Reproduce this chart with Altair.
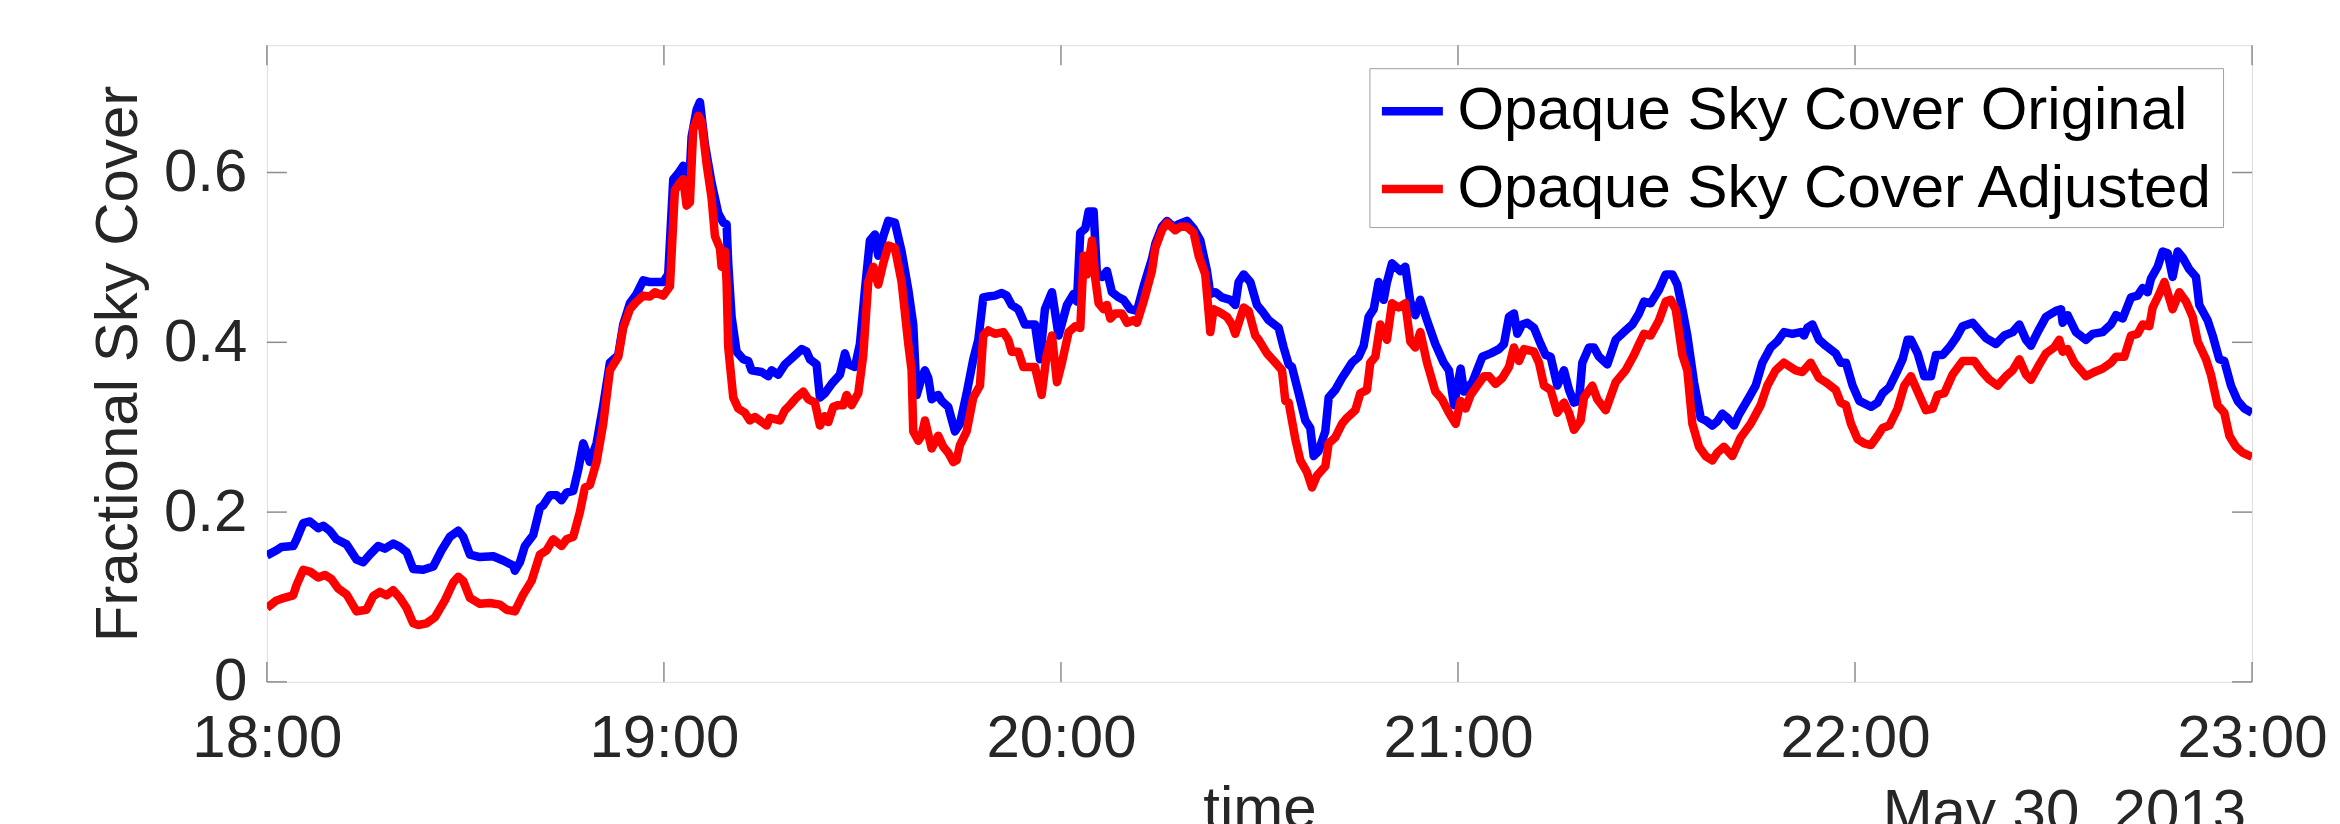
import altair as alt
import pandas as pd

FONT = "Liberation Sans"
ORIG_LABEL = "Opaque Sky Cover Original"
ADJ_LABEL = "Opaque Sky Cover Adjusted"
DATE_LABEL = "May 30, 2013"
X_TITLE = "time"
Y_TITLE = "Fractional Sky Cover"

# minutes after 18:00 and fractional sky cover, original series (blue)
orig_minutes = [
    0, 1.46, 2.21, 3.98, 4.48, 5.49, 6.50, 7.76, 8.51, 9.52, 10.53, 12.04, 13.55, 14.56, 15.57, 16.82, 17.83,
    19.09, 20.10, 21.11, 22.11, 23.62, 25.14, 26.40, 27.66, 28.92, 29.67, 30.68, 32.19, 34.21, 35.72, 37.23,
    37.48, 38.24, 38.99, 40.25, 41.26, 41.76, 42.77, 43.78, 44.53, 45.29, 46.30, 47.05, 47.81, 48.82, 49.82,
    50.83, 51.84, 53.10, 53.85, 54.86, 55.87, 56.88, 57.88,
    58.64, 59.9, 60.65, 61.41, 62.17, 62.92, 63.43, 63.68, 64.18, 64.94, 65.44, 66.2, 67.2, 68.21, 68.97, 69.47,
    69.72, 70.23, 70.98, 71.99, 72.75, 73.25, 74.76, 75.77, 76.27, 77.28, 78.29, 79.3, 80.81, 81.56, 82.07,
    83.07, 83.58, 84.33, 85.34, 86.6, 87.36, 87.86, 88.87, 89.62, 90.38, 91.13, 91.89, 92.39, 93.15, 93.91,
    94.91, 95.92, 96.93, 97.68, 98.19, 98.94, 99.45, 99.95, 100.46, 101.46, 101.97, 102.97, 103.98, 104.74,
    105.75, 106.75, 107.51, 108.26, 109.02, 110.03, 111.04, 111.79, 112.55, 113.55, 114.56, 116.07, 116.83, 117.58,
    118.64, 119.65, 120.91, 121.91, 122.42, 122.92, 123.68, 124.18, 124.94, 125.44, 126.2, 126.95, 127.71,
    128.72, 129.47, 130.48, 131.49, 132.49, 133.75, 134.26, 135.26, 136.02, 137.03, 137.78, 139.04, 140.05,
    141.06, 142.07, 142.57, 143.33, 144.33, 145.59, 146.35, 146.85, 147.61, 148.62, 149.62, 150.38, 151.39,
    152.9, 153.65, 154.41, 154.91, 155.92, 156.93, 157.68, 158.19, 158.94, 159.95, 160.46, 161.46, 162.47,
    163.23, 163.98, 164.99, 165.75, 166.5, 167.26, 168.01, 168.77, 169.27, 170.03, 171.29, 172.04, 172.8,
    173.55, 174.31, 175.32, 176.58, 177.84,
    178.64, 179.4, 180.4, 180.91, 182.17, 183.68, 184.94, 186.2, 186.95, 187.71, 188.46, 188.97, 189.72, 190.48,
    191.49, 192.49, 193.25, 194.0, 195.01, 196.02, 196.78, 197.53, 198.29, 198.79, 199.8, 200.55, 201.31,
    202.57, 203.83, 205.34, 206.35, 207.36, 208.11, 209.12, 210.38, 211.39, 212.4, 213.15, 213.91, 214.66,
    215.67, 216.68, 217.43, 218.44, 219.2, 219.95, 220.71, 221.72, 222.47, 223.98, 224.99, 226.0, 227.26,
    228.26, 229.27, 230.53, 231.79, 232.3, 232.8, 233.55, 234.56, 235.57, 237.08, 237.84,
    238.63, 239.64, 240.65, 242.41, 243.42, 244.17, 245.18, 246.44, 247.2, 247.95, 248.45, 249.46, 250.47,
    251.48, 252.23, 253.24, 254.25, 255.26, 256.26, 257.77, 258.78, 259.79, 261.3, 262.56, 263.82, 264.83,
    265.84, 266.59, 267.6, 268.86, 270.37, 271.13, 271.38, 272.13, 273.39, 274.9, 275.91, 277.42, 278.68,
    279.44, 280.45, 281.71, 282.71, 283.47, 284.22, 284.73, 285.74, 286.49, 287.25, 288.0, 288.76, 289.51,
    290.52, 291.53, 292.03, 293.29, 294.05, 295.06, 295.81, 296.82, 297.83, 298.84, 300.0,
]
orig_values = [
    .149, .155, .159, .160, .168, .187, .189, .181, .184, .178, .168, .162, .144, .141, .150, .160, .157,
    .163, .159, .153, .133, .132, .136, .155, .171, .178, .171, .150, .147, .148, .143, .137,
    .131, .141, .160, .173, .205, .208, .220, .220, .214, .223, .225, .250, .281, .259, .281,
    .326, .376, .385, .421, .446, .457, .473, .471,
    .471, .471, .480, .592, .599, .608, .603, .565, .642, .674, .683, .633, .588, .552, .541, .539,
    .493, .430, .389, .380, .378, .367, .365, .360, .367, .362, .374, .381, .392, .389, .380,
    .374, .335, .340, .351, .362, .387, .374, .371, .398, .462, .520, .527, .502, .525, .543,
    .541, .507, .462, .421, .338, .358, .367, .358, .333, .338, .331, .324, .295, .304,
    .340, .380, .403, .453, .454, .455, .458, .455, .444, .439, .421, .421, .380, .439,
    .459, .408, .444, .457, .448, .529, .534, .554, .554, .480, .477, .484, .459,
    .453, .450, .439, .437, .466, .498, .516, .536, .543, .536, .539, .543, .534,
    .520, .484, .457, .459, .453, .450, .444, .471, .480, .471, .444, .437, .426,
    .417, .394, .374, .371, .340, .308, .299, .266, .272, .295, .335, .344, .358,
    .367, .376, .383, .396, .430, .439, .471, .450, .471, .493, .484, .489, .448,
    .432, .450, .426, .398, .376,
    .367, .326, .369, .342, .353, .383, .387, .392, .398, .430, .434, .410, .421, .423,
    .417, .398, .385, .383, .349, .367, .344, .329, .331, .376, .394, .394, .383,
    .374, .403, .414, .421, .434, .448, .446, .462, .480, .480, .468, .439, .408,
    .353, .311, .308, .302, .307, .316, .311, .302, .315, .335, .349, .376, .394,
    .401, .412, .410, .412, .408, .417, .421, .403, .396, .387, .376,
    .376, .349, .331, .324, .329, .340, .347, .367, .380, .403, .403, .387, .360,
    .360, .385, .385, .394, .405, .419, .423, .414, .405, .398, .408, .412, .421,
    .403, .396, .412, .430, .437, .439, .423, .432, .412, .403, .410, .412, .421,
    .432, .428, .453, .455, .464, .459, .475, .489, .507, .505, .477, .507, .500,
    .486, .477, .444, .426, .408, .380, .378, .349, .331, .322, .317,
]

# minutes after 18:00 and fractional sky cover, adjusted series (red)
adj_minutes = [
    0, 1.46, 2.21, 3.98, 4.48, 5.49, 6.50, 7.76, 8.76, 9.77, 10.78, 12.04, 13.55, 15.06, 16.07, 17.08, 18.08,
    19.09, 20.10, 21.11, 22.11, 22.87, 24.13, 25.39, 26.90, 28.16, 28.92, 29.67, 30.68, 32.19, 33.70, 35.21,
    36.22, 37.48, 38.74, 40.00, 41.26, 42.27, 43.27, 44.53, 45.29, 46.30, 47.30, 48.06, 48.82, 49.82, 50.83,
    51.84, 53.10, 53.85, 54.86, 55.87, 56.88, 57.88,
    58.64, 59.9, 60.91, 61.66, 62.42, 62.92, 63.43, 63.93, 64.43, 65.19, 65.69, 66.45, 67.2, 67.71, 68.46,
    68.72, 69.22, 69.47, 69.72, 70.48, 71.23, 72.24, 72.99, 73.75, 75.52, 76.02, 77.53, 78.29, 79.04, 80.05,
    81.06, 81.81, 82.82, 83.58, 84.33, 84.84, 85.59, 86.35, 87.1, 87.61, 88.36, 89.37, 90.13, 90.88, 91.64,
    92.39, 93.15, 93.91, 94.91, 95.92, 96.93, 97.43, 97.68, 98.44, 98.94, 99.45, 100.46, 101.46, 102.22,
    102.97, 103.73, 104.23, 104.74, 105.75, 106.75, 107.76, 108.26, 109.02, 110.03, 111.29, 112.04, 112.55,
    113.55, 114.31, 116.07, 117.08, 117.84,
    118.64, 119.4, 120.15, 121.16, 122.17, 122.92, 123.43, 123.93, 124.69, 125.19, 125.69, 126.45, 126.95,
    127.46, 128.21, 129.22, 129.98, 130.98, 131.49, 132.49, 133.75, 134.26, 135.26, 136.02, 137.28, 138.04,
    139.04, 140.05, 140.81, 141.81, 142.32, 142.57, 143.07, 144.08, 145.09, 145.85, 146.35, 147.61, 148.36,
    149.37, 149.88, 151.13, 152.4, 153.4, 153.91, 154.41, 155.42, 156.17, 157.18, 157.94, 158.69, 159.95,
    160.46, 161.46, 162.47, 163.23, 164.49, 165.24, 166.25, 166.75, 167.51, 168.26, 168.77, 169.27, 170.03,
    171.04, 172.04, 172.8, 173.55, 174.31, 175.32, 176.58, 177.59,
    178.64, 179.65, 180.4, 181.16, 181.91, 182.92, 183.93, 184.69, 185.69, 186.7, 187.71, 188.46, 189.22,
    189.98, 191.49, 192.24, 193.0, 194.0, 195.01, 196.02, 196.78, 197.53, 198.54, 199.04, 200.3, 201.06,
    202.32, 203.83, 205.34, 206.6, 207.36, 208.11, 209.12, 210.38, 211.39, 212.14, 212.9, 213.91, 214.66,
    215.42, 216.43, 217.43, 218.44, 219.2, 220.2, 221.46, 222.72, 224.23, 225.75, 226.75, 228.01, 229.27,
    231.04, 232.04, 233.3, 234.56, 235.57, 237.08, 237.84,
    238.63, 239.39, 240.39, 241.4, 242.41, 243.42, 244.17, 245.18, 246.44, 247.45, 248.45, 249.46, 250.72,
    251.73, 252.49, 253.49, 254.75, 256.26, 258.03, 259.04, 260.29, 261.55, 262.81, 263.82, 264.83, 265.84,
    266.59, 267.86, 268.86, 270.12, 270.87, 271.38, 272.13, 273.14, 274.9, 276.16, 277.42, 278.68, 279.44,
    280.7, 281.71, 282.71, 283.47, 284.48, 284.98, 285.99, 286.75, 288.0, 289.01, 290.02, 291.03, 291.78,
    293.04, 293.79, 294.8, 295.81, 296.57, 297.58, 298.58, 300.0,
]
adj_values = [
    .087, .096, .098, .102, .114, .132, .130, .123, .126, .121, .110, .103, .083, .085, .101, .106, .102,
    .108, .099, .087, .069, .067, .069, .076, .096, .117, .124, .119, .099, .092, .093, .091,
    .085, .083, .103, .119, .150, .155, .168, .160, .168, .171, .200, .229, .232, .259, .304,
    .367, .383, .417, .439, .448, .455, .454,
    .459, .455, .466, .579, .588, .592, .561, .565, .651, .667, .660, .610, .570, .525, .511,
    .489, .507, .471, .394, .335, .322, .317, .308, .312, .302, .311, .308, .320, .326, .335,
    .342, .333, .329, .302, .313, .306, .324, .326, .326, .338, .326, .340, .385, .471, .489,
    .468, .493, .514, .511, .471, .398, .367, .295, .284, .290, .308, .275, .290, .277,
    .270, .259, .261, .279, .295, .335, .349, .408, .414, .410, .412, .403, .389,
    .389, .371, .371, .338, .385,
    .408, .353, .376, .412, .419, .417, .502, .480, .520, .475, .446, .439, .444,
    .428, .434, .434, .423, .426, .423, .448, .484, .511, .532, .541, .532, .536,
    .536, .529, .502, .480, .435, .412, .439, .435, .430, .421, .410, .441, .437,
    .408, .403, .387, .376, .367, .331, .329, .286, .261, .247, .229, .243, .254,
    .281, .288, .304, .311, .320, .340, .344, .376, .383, .421, .412, .403, .446,
    .441, .446, .401, .394, .412, .376, .342, .333,
    .317, .304, .331, .322, .338, .349, .360, .360, .351, .358, .371, .394, .378,
    .392, .389, .376, .349, .344, .317, .329, .317, .297, .308, .335, .349, .333,
    .320, .353, .367, .385, .398, .410, .408, .426, .448, .450, .439, .385, .367,
    .304, .277, .266, .261, .270, .277, .266, .288, .304, .326, .349, .367, .376,
    .367, .365, .376, .358, .353, .344, .329,
    .326, .304, .286, .281, .279, .290, .299, .302, .322, .349, .360, .342, .320,
    .322, .338, .340, .362, .378, .378, .367, .356, .349, .360, .367, .380, .362,
    .356, .374, .387, .394, .403, .389, .392, .376, .360, .365, .369, .376, .383,
    .383, .408, .410, .421, .419, .441, .457, .471, .439, .459, .448, .430, .401,
    .380, .362, .326, .317, .290, .277, .270, .265,
]

x_tick_minutes = [0, 60, 120, 180, 240, 300]
y_tick_values = [0, 0.2, 0.4, 0.6]

assert len(orig_minutes) == len(orig_values), (len(orig_minutes), len(orig_values))
assert len(adj_minutes) == len(adj_values), (len(adj_minutes), len(adj_values))

df_orig = pd.DataFrame({"minute": orig_minutes, "value": orig_values, "series": ORIG_LABEL})
df_adj = pd.DataFrame({"minute": adj_minutes, "value": adj_values, "series": ADJ_LABEL})
df_xt = pd.DataFrame({"minute": x_tick_minutes})
df_yt = pd.DataFrame({"value": y_tick_values})

W, H = 1986, 637
TICK = 20
FRAME = "#8c8c8c"
TXT = "#262626"
LW = 8.5

x_scale = alt.Scale(domain=[0, 300], nice=False, zero=False)
y_scale = alt.Scale(domain=[0, 0.75], nice=False, zero=True)
color_scale = alt.Scale(domain=[ORIG_LABEL, ADJ_LABEL], range=["#0000ff", "#ff0000"])

x_axis = alt.Axis(
    values=x_tick_minutes,
    labelExpr="(18 + round(datum.value / 60)) + ':00'",
    ticks=False, domain=False, grid=False,
    labelFont=FONT, labelFontSize=60, labelColor=TXT, labelPadding=28,
    labelFlush=False, labelOverlap=False,
    title=X_TITLE, titleFont=FONT, titleFontSize=60, titleFontWeight="normal",
    titleColor=TXT, titlePadding=12,
)
y_axis = alt.Axis(
    values=y_tick_values,
    labelExpr="datum.value == 0 ? '0' : format(datum.value, '.1f')",
    ticks=False, domain=False, grid=False,
    labelFont=FONT, labelFontSize=60, labelColor=TXT, labelPadding=20,
    labelFlush=False, labelOverlap=False,
    title=Y_TITLE, titleFont=FONT, titleFontSize=60, titleFontWeight="normal",
    titleColor=TXT, titlePadding=14,
)
legend = alt.Legend(
    title=None, orient="none", legendX=1103, legendY=23,
    symbolType="stroke", symbolSize=3721, symbolStrokeWidth=LW,
    labelFont=FONT, labelFontSize=60, labelColor="#000000", labelOffset=10, labelLimit=3000,
    padding=8, rowPadding=13, strokeColor="#a0a0a0", fillColor="#ffffff",
)

line_orig = alt.Chart(df_orig).mark_line(strokeWidth=LW, clip=True, strokeJoin="round").encode(
    x=alt.X("minute:Q", scale=x_scale, axis=x_axis),
    y=alt.Y("value:Q", scale=y_scale, axis=y_axis),
    color=alt.Color("series:N", scale=color_scale, legend=legend),
)
line_adj = alt.Chart(df_adj).mark_line(strokeWidth=LW, clip=True, strokeJoin="round").encode(
    x=alt.X("minute:Q", scale=x_scale),
    y=alt.Y("value:Q", scale=y_scale),
    color=alt.Color("series:N", scale=color_scale, legend=legend),
)

ytick_left = alt.Chart(df_yt).mark_rule(color=FRAME, strokeWidth=1.5).encode(
    y=alt.Y("value:Q", scale=y_scale), x=alt.value(0), x2=alt.value(TICK))
ytick_right = alt.Chart(df_yt).mark_rule(color=FRAME, strokeWidth=1.5).encode(
    y=alt.Y("value:Q", scale=y_scale), x=alt.value(W - TICK), x2=alt.value(W))
xtick_bottom = alt.Chart(df_xt).mark_rule(color=FRAME, strokeWidth=1.5).encode(
    x=alt.X("minute:Q", scale=x_scale), y=alt.value(H - TICK), y2=alt.value(H))
xtick_top = alt.Chart(df_xt).mark_rule(color=FRAME, strokeWidth=1.5).encode(
    x=alt.X("minute:Q", scale=x_scale), y=alt.value(0), y2=alt.value(TICK))

date_text = alt.Chart(pd.DataFrame({"label": [DATE_LABEL]})).mark_text(
    align="right", baseline="alphabetic", font=FONT, fontSize=60, color=TXT
).encode(x=alt.value(W - 6), y=alt.value(786), text="label:N")

chart = alt.layer(
    ytick_left, ytick_right, xtick_bottom, xtick_top, line_orig, line_adj, date_text
).properties(
    width=W, height=H,
    autosize=alt.AutoSizeParams(type="none"),
    padding={"left": 259, "top": 37, "right": 80, "bottom": 200},
).configure_view(stroke=FRAME, strokeWidth=1.5).configure(background="white")

chart.save("out.html", embed_options={"renderer": "svg", "actions": False})
